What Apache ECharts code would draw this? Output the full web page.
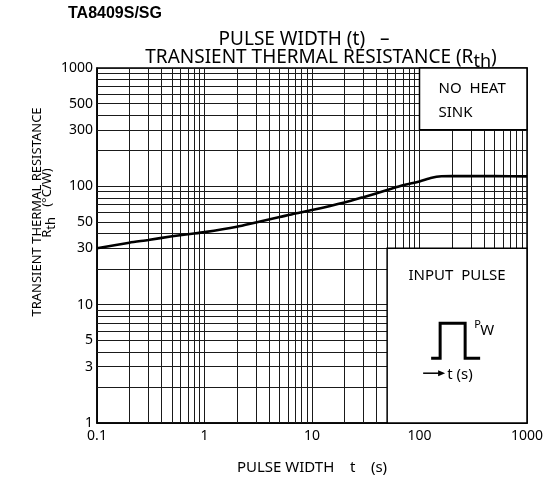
<!DOCTYPE html>
<html><head><meta charset="utf-8">
<script src="https://cdn.jsdelivr.net/npm/echarts@6/dist/echarts.min.js"></script>
<style>html,body{margin:0;padding:0;background:#fff}#c{width:552px;height:488px}</style>
</head><body><div id="c"></div>
<script>
// Curve: pulse width t (s) vs transient thermal resistance Rth (°C/W)
const pulseWidth = [0.1, 0.2, 0.3, 0.5, 0.7, 1, 2, 3, 5, 7, 10, 20, 30, 50, 70, 100, 130, 160, 200, 300, 500, 1000];
const rthValues  = [30, 33.4, 35.2, 37.8, 39.4, 41, 45.5, 49.5, 55, 59, 63, 73, 81, 93, 102, 110, 118, 121.5, 122, 122, 122, 121.5];
// Tick labels
const xTickLabels = [0.1, 1, 10, 100, 1000];
const yTickLabels = [1, 3, 5, 10, 30, 50, 100, 300, 500, 1000];
// Minor grid lines
const xMinorGrid = [0.2, 0.3, 0.4, 0.5, 0.6, 0.7, 0.8, 0.9, 2, 3, 4, 5, 6, 7, 8, 9, 20, 30, 40, 50, 60, 70, 80, 90, 200, 300, 400, 500, 600, 700, 800, 900];
const yMinorGrid = [2, 3, 4, 5, 6, 7, 8, 9, 20, 30, 40, 50, 60, 70, 80, 90, 200, 300, 400, 500, 600, 700, 800, 900];
// Inset boxes (data-space corners)
const noHeatSinkBox = [[100, 1000], [1000, 300]];
const inputPulseBox = [[50, 30], [1000, 1]];

const FONT = 'Noto Sans';
const chart = echarts.init(document.getElementById('c'), null, {renderer: 'canvas'});
const gridLine = {type: 'solid', color: '#1a1a1a', width: 1};

chart.setOption({
  animation: false,
  backgroundColor: '#fff',
  grid: {left: 97, right: 25, top: 68, bottom: 65, show: true, borderColor: '#000', borderWidth: 1.5, backgroundColor: 'transparent'},
  xAxis: {
    type: 'log', logBase: 10, min: 0.1, max: 1000,
    axisLine: {show: true, lineStyle: {color: '#000', width: 1.5}},
    axisTick: {show: false},
    splitLine: {show: true, lineStyle: gridLine},
    axisLabel: {customValues: xTickLabels, formatter: v => String(v), color: '#000', fontSize: 14, fontFamily: FONT, margin: 6, showMinLabel: true, showMaxLabel: true},
    name: 'PULSE WIDTH    t    (s)', nameLocation: 'middle', nameGap: 37,
    nameTextStyle: {color: '#000', fontSize: 15, fontFamily: FONT}
  },
  yAxis: {
    type: 'log', logBase: 10, min: 1, max: 1000,
    axisLine: {show: true, lineStyle: {color: '#000', width: 1.5}},
    axisTick: {show: false},
    splitLine: {show: true, lineStyle: gridLine},
    axisLabel: {customValues: yTickLabels, formatter: v => String(v), color: '#000', fontSize: 14, fontFamily: FONT, margin: 4, showMinLabel: true, showMaxLabel: true}
  },
  series: [
    {
      type: 'line', data: [], z: 1, silent: true,
      markLine: {
        silent: true, symbol: 'none', animation: false,
        label: {show: false},
        lineStyle: gridLine,
        emphasis: {disabled: true},
        data: xMinorGrid.map(v => ({xAxis: v})).concat(yMinorGrid.map(v => ({yAxis: v})))
      }
    },
    {
      type: 'line', z: 5, silent: true,
      data: pulseWidth.map((x, i) => [x, rthValues[i]]),
      symbol: 'none', smooth: 0.25,
      lineStyle: {color: '#000', width: 2.6}
    }
  ]
});

const p = v => chart.convertToPixel({gridIndex: 0}, v);
const a1 = p(noHeatSinkBox[0]), b1 = p(noHeatSinkBox[1]);
const a2 = p(inputPulseBox[0]), b2 = p(inputPulseBox[1]);
const tx = (x, y, text, opt) => Object.assign({type: 'text', x, y, z: 60, style: Object.assign({text, fill: '#000', font: '15px "' + FONT + '"', align: 'left', verticalAlign: 'middle'}, opt || {})});

const bx = a2[0], by = a2[1];
chart.setOption({
  graphic: [
    {type: 'rect', z: 50, shape: {x: a1[0], y: a1[1], width: b1[0] - a1[0], height: b1[1] - a1[1]}, style: {fill: '#fff', stroke: '#000', lineWidth: 1.5}},
    {type: 'rect', z: 50, shape: {x: a2[0], y: a2[1], width: b2[0] - a2[0], height: b2[1] - a2[1]}, style: {fill: '#fff', stroke: '#000', lineWidth: 1.5}},
    tx(a1[0] + 19, a1[1] + 21, 'NO  HEAT'),
    tx(a1[0] + 19, a1[1] + 45, 'SINK'),
    tx((a2[0] + b2[0]) / 2, by + 28, 'INPUT  PULSE', {align: 'center'}),
    {type: 'polyline', z: 60, shape: {points: [[bx + 44, by + 110], [bx + 53, by + 110], [bx + 53, by + 75], [bx + 78, by + 75], [bx + 78, by + 110], [bx + 93, by + 110]]}, style: {fill: null, stroke: '#000', lineWidth: 3}},
    tx(bx + 87, by + 77, 'P', {font: '11px "' + FONT + '"'}),
    tx(bx + 93, by + 83, 'W', {font: '15px "' + FONT + '"'}),
    {type: 'line', z: 60, shape: {x1: bx + 36, y1: by + 125, x2: bx + 55, y2: by + 125}, style: {stroke: '#000', lineWidth: 1.5}},
    {type: 'polygon', z: 60, shape: {points: [[bx + 58, by + 125], [bx + 51, by + 122], [bx + 51, by + 128]]}, style: {fill: '#000'}},
    tx(bx + 60, by + 127, 't (s)'),
    // Titles
    {type: 'text', z: 60, x: 68, y: 14, style: {text: 'TA8409S/SG', fill: '#000', font: 'bold 16px "Liberation Sans"', align: 'left', verticalAlign: 'middle'}},
    {type: 'text', z: 60, x: 304, y: 40, style: {text: 'PULSE WIDTH (t)   –', fill: '#000', font: '19px "' + FONT + '"', align: 'center', verticalAlign: 'middle'}},
    {type: 'text', z: 60, x: 321, y: 62, style: {
      text: '{n|TRANSIENT THERMAL RESISTANCE (R}{s|th}{n|)}', align: 'center', verticalAlign: 'middle',
      rich: {n: {fontSize: 19, fontFamily: FONT, lineHeight: 20, verticalAlign: 'top', fill: '#000'}, s: {fontSize: 18, fontFamily: FONT, lineHeight: 28, fill: '#000'}}
    }},
    // Y axis name
    {type: 'text', z: 60, x: 37, y: 212, rotation: Math.PI / 2, style: {text: 'TRANSIENT THERMAL RESISTANCE', fill: '#000', font: '13px "' + FONT + '"', align: 'center', verticalAlign: 'middle'}},
    {type: 'text', z: 60, x: 51, y: 203, rotation: Math.PI / 2, style: {
      text: '{n|R}{s|th}{n|   (°C/W)}', align: 'center', verticalAlign: 'middle',
      rich: {n: {fontSize: 13, fontFamily: FONT, lineHeight: 14, verticalAlign: 'top', fill: '#000'}, s: {fontSize: 13, fontFamily: FONT, lineHeight: 20, fill: '#000'}}
    }}
  ]
});
</script></body></html>
